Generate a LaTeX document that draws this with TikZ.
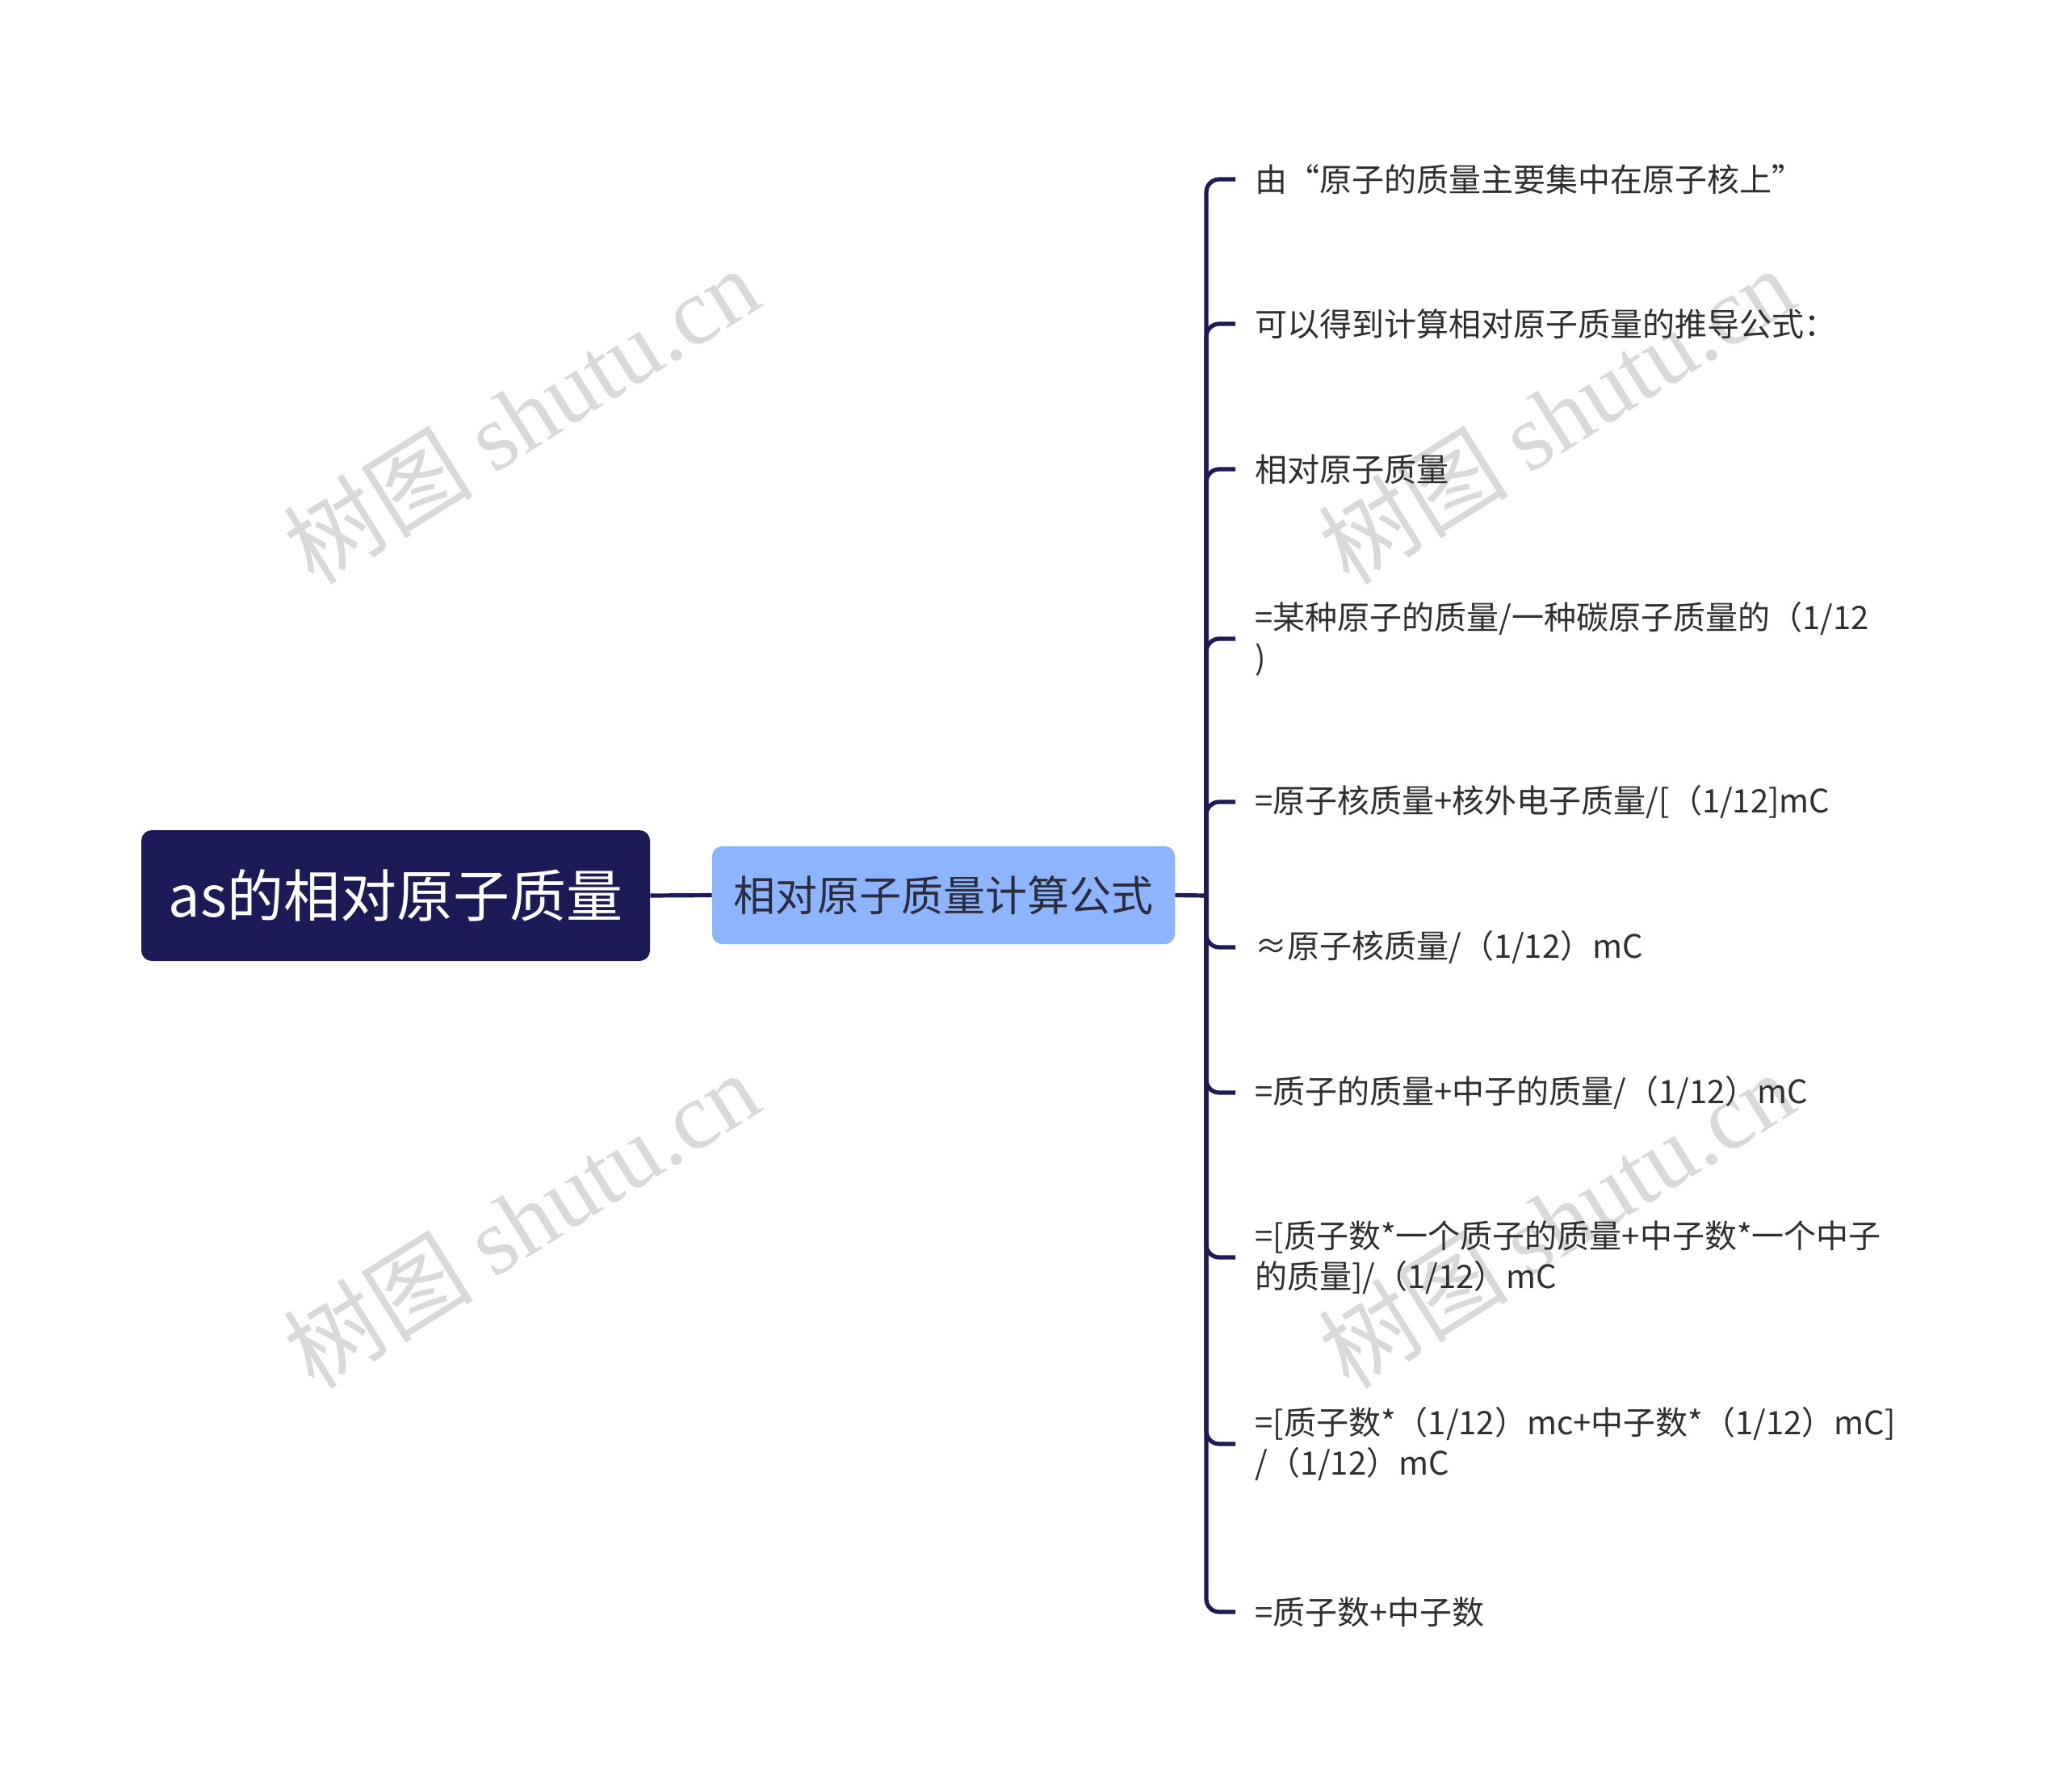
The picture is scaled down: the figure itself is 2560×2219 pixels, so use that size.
\documentclass[tikz,border=0pt]{standalone}
\usepackage{fontspec}
\setmainfont{Noto Sans CJK SC}
\newfontfamily\wmfont{Liberation Serif}
\definecolor{navy}{HTML}{1C1B57}
\definecolor{skyblue}{HTML}{8DB5FB}
\definecolor{subtext}{HTML}{2A2D3E}
\definecolor{leafgray}{HTML}{2F2F2F}
\definecolor{wmgray}{HTML}{D9D9D9}
\tikzset{
	rootbox/.style={draw=none, fill=navy, rounded corners=6.5pt, text=white, minimum width=315pt, minimum height=81pt, inner sep=0pt, font=\fontsize{35pt}{41pt}\selectfont},
	subbox/.style={draw=none, fill=skyblue, rounded corners=6pt, text=subtext, minimum width=286.5pt, minimum height=60.5pt, inner sep=0pt, font=\fontsize{26pt}{31pt}\selectfont},
	leaf/.style={anchor=west, inner xsep=12pt, inner ysep=0pt, align=left, text=leafgray, font=\fontsize{20pt}{25pt}\selectfont},
	link/.style={draw=navy, line width=2.6pt},
	branch/.style={link, rounded corners=8pt},
	wmark/.style={text=wmgray, rotate=32, font=\fontsize{59pt}{66pt}\selectfont}
}

\begin{document}
\begin{tikzpicture}[x=0.5pt, y=-0.5pt]
			%%%%% START %%%%%
			\useasboundingbox (0, 0) rectangle (2560, 2219);
			
			% watermark
			\node[wmark] (wm1) at (645, 514) {树图 {\wmfont shutu.cn}};
			\node[wmark] (wm2) at (1927, 514) {树图 {\wmfont shutu.cn}};
			\node[wmark] (wm3) at (645, 1510) {树图 {\wmfont shutu.cn}};
			\node[wmark] (wm4) at (1927, 1510) {树图 {\wmfont shutu.cn}};
			
			\node[rootbox] (root) at (490, 1109) {as的相对原子质量};
			\node[subbox] (sub) at (1168.5, 1108.5) {相对原子质量计算公式};
			\coordinate (hub) at (1494, 1109);
			
			\node[leaf] (l1) at (1530, 222) {由“原子的质量主要集中在原子核上”};
			\node[leaf] (l2) at (1530, 401) {可以得到计算相对原子质量的推导公式：};
			\node[leaf] (l3) at (1530, 581) {相对原子质量};
			\node[leaf] (l4) at (1530, 791) {=某种原子的质量/一种碳原子质量的（1/12\\)};
			\node[leaf] (l5) at (1530, 993) {=原子核质量+核外电子质量/[（1/12]mC};
			\node[leaf] (l6) at (1530, 1173) {≈原子核质量/（1/12）mC};
			\node[leaf] (l7) at (1530, 1353) {=质子的质量+中子的质量/（1/12）mC};
			\node[leaf] (l8) at (1530, 1557) {=[质子数*一个质子的质量+中子数*一个中子\\的质量]/（1/12）mC};
			\node[leaf] (l9) at (1530, 1788) {=[质子数*（1/12）mc+中子数*（1/12）mC]\\/（1/12）mC};
			\node[leaf] (l10) at (1530, 1996) {=质子数+中子数};
			
			\draw[link] (root.east) -- (sub.west);
			\draw[link] (sub.east) -- (hub);
			\foreach \i in {1,...,10}
				\draw[branch] (hub) |- (l\i.west);
			
			%%%%% END %%%%%
\end{tikzpicture}
\end{document}
